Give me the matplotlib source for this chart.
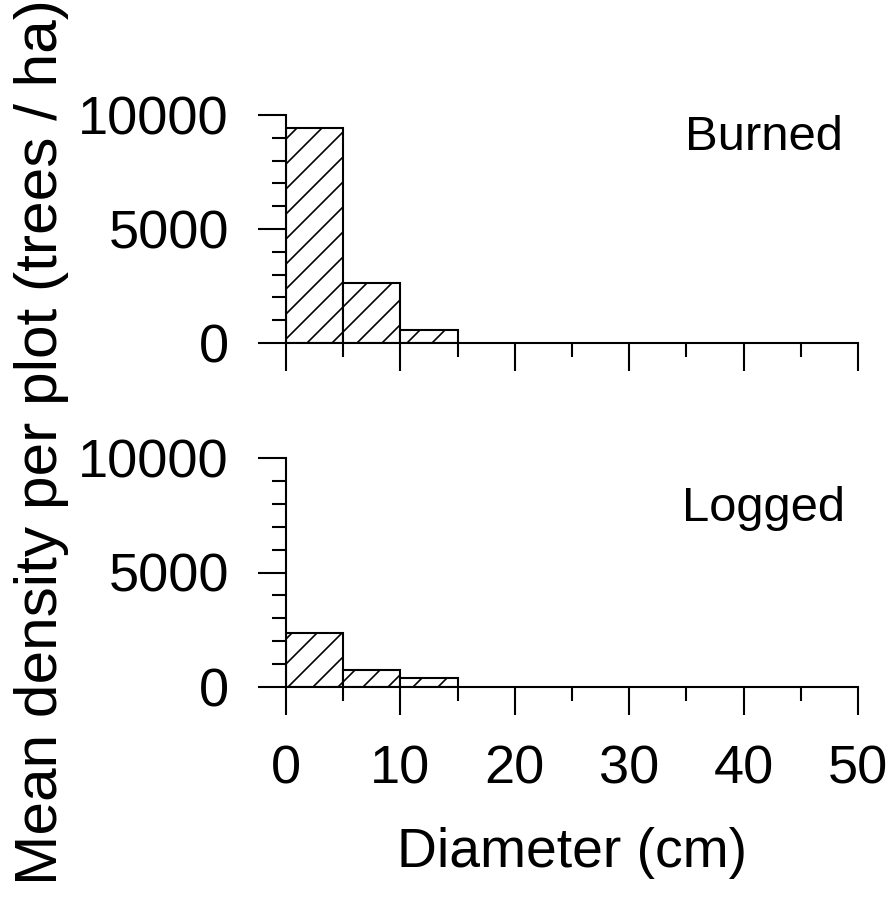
import matplotlib
matplotlib.use("Agg")
import matplotlib.pyplot as plt
from matplotlib.ticker import MultipleLocator

plt.rcParams["font.family"] = ["Liberation Sans", "DejaVu Sans"]
plt.rcParams["hatch.linewidth"] = 0.8

# diameter classes (cm), 5 cm wide
bin_left = [0, 5, 10]
bin_width = 5
burned = [9450, 2630, 570]
logged = [2370, 740, 390]
panels = [("Burned", burned), ("Logged", logged)]

x_ticks = [0, 10, 20, 30, 40, 50]
y_ticks = [0, 5000, 10000]

fig = plt.figure(figsize=(894 / 150, 906 / 150), dpi=150)
rects = [[286 / 894, 1 - 343 / 906, 572 / 894, 228 / 906],
         [286 / 894, 1 - 687 / 906, 572 / 894, 229 / 906]]

for i, ((name, vals), r) in enumerate(zip(panels, rects)):
    ax = fig.add_axes(r)
    ax.bar(bin_left, vals, width=bin_width, align="edge", color="white",
           edgecolor="black", linewidth=1.0, hatch="//", zorder=2)
    ax.set_xlim(0, 50)
    ax.set_ylim(0, 10000)
    for s in ["top", "right"]:
        ax.spines[s].set_visible(False)
    for s in ["left", "bottom"]:
        ax.spines[s].set_linewidth(1.0)
        ax.spines[s].set_zorder(3)
    ax.set_xticks(x_ticks)
    ax.xaxis.set_minor_locator(MultipleLocator(5))
    ax.set_yticks(y_ticks)
    ax.yaxis.set_minor_locator(MultipleLocator(1000))
    ax.tick_params(which="major", direction="out", length=13.4, width=1.0,
                   labelsize=26, pad=14)
    ax.tick_params(which="minor", direction="out", length=6.7, width=1.0)
    if i == 0:
        ax.tick_params(axis="x", labelbottom=False)
    ax.text(0.835, 0.9 if i == 0 else 0.78, name, transform=ax.transAxes,
            ha="center", va="center", fontsize=23.5)

fig.text(572 / 894, 1 - 867 / 906, "Diameter (cm)", ha="center",
         va="baseline", fontsize=26.5)
fig.text(42 / 894, 1 - 442 / 906, "Mean density per plot (trees / ha)",
         rotation=90, ha="center", va="center", fontsize=29)

fig.savefig("out.png", dpi=150)
